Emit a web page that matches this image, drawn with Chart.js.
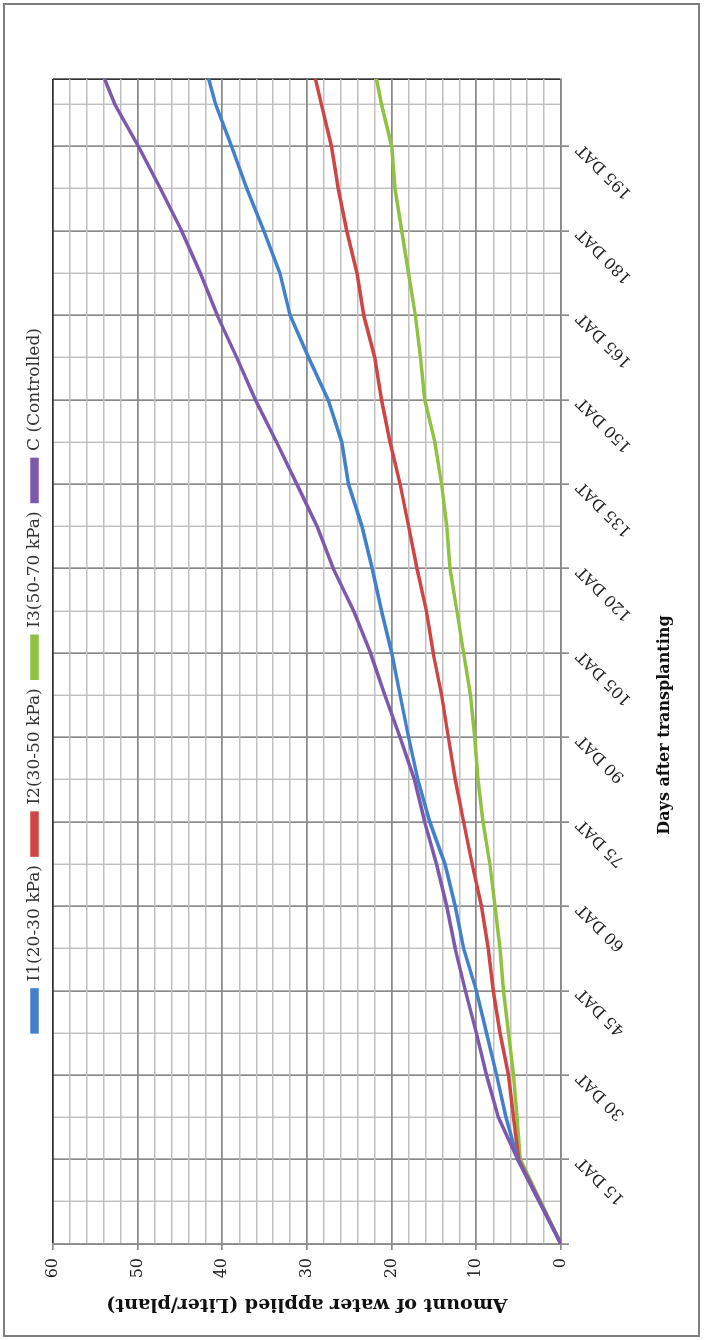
<!DOCTYPE html>
<html>
<head>
<meta charset="utf-8">
<script src="https://cdn.jsdelivr.net/npm/chart.js@4.4.0/dist/chart.umd.min.js"></script>
<style>
  html, body { margin: 0; padding: 0; background: #fff; overflow: hidden; }
  body { width: 704px; height: 1340px; position: relative; }
  /* the whole figure is laid out landscape and turned a quarter turn */
  #wrap { position: absolute; left: 0; top: 0; width: 1340px; height: 704px;
          transform-origin: 0 0; transform: rotate(-90deg) translate(-1340px, 0); }
  #frame { position: absolute; left: 3px; top: 3px; width: 1334px; height: 697px;
           border: 2px solid #7f7f7f; box-sizing: border-box; }
  canvas { position: absolute; left: 0; top: 0; }
</style>
</head>
<body>
<div id="wrap">
  <div id="frame"></div>
  <canvas id="grafico" width="1340" height="704"></canvas>
</div>
<script>
// days after transplanting where values were read
const days = [0, 15, 22.5, 30, 37.5, 45, 52.5, 60, 67.5, 75, 82.5, 90, 97.5, 105, 112.5,
  120, 127.5, 135, 142.5, 150, 157.5, 165, 172.5, 180, 187.5, 195, 202.5, 207];

const seriesNames = ['I1(20-30 kPa)', 'I2(30-50 kPa)', 'I3(50-70 kPa)', 'C (Controlled)'];
const seriesColors = ['#4280cc', '#cf4545', '#90c242', '#7c59ad'];

// cumulative water applied (Liter/plant)
const i1Values = [0, 5.1, 6.5, 7.6, 8.8, 10.0, 11.5, 12.5, 13.7, 15.5, 16.9, 18.0, 19.0, 20.0, 21.2,
  22.3, 23.5, 25.1, 25.9, 27.5, 29.8, 32.0, 33.2, 35.1, 37.1, 38.9, 40.8, 41.6];
const i2Values = [0, 5.0, 5.6, 6.2, 7.2, 8.0, 8.6, 9.4, 10.5, 11.5, 12.5, 13.3, 14.1, 15.1, 15.9,
  17.0, 18.0, 19.0, 20.2, 21.2, 22.0, 23.3, 24.1, 25.3, 26.3, 27.1, 28.3, 29.0];
const i3Values = [0, 4.8, 5.2, 5.6, 6.2, 6.8, 7.2, 7.8, 8.4, 9.2, 9.8, 10.2, 10.7, 11.5, 12.3,
  13.1, 13.5, 14.1, 14.9, 16.1, 16.6, 17.2, 18.0, 18.8, 19.6, 20.0, 21.2, 21.8];
const cValues = [0, 5.1, 7.4, 8.8, 10.0, 11.3, 12.5, 13.5, 14.7, 16.1, 17.3, 19.0, 20.8, 22.5, 24.5,
  26.9, 28.8, 31.2, 33.6, 36.1, 38.3, 40.6, 42.6, 44.8, 47.3, 49.9, 52.7, 53.9];

// axis ticks
const dayTicks = [15, 30, 45, 60, 75, 90, 105, 120, 135, 150, 165, 180, 195];
const amountTicks = [0, 10, 20, 30, 40, 50, 60];

const xTitle = 'Days after transplanting';
const yTitle = 'Amount of water applied (Liter/plant)';

const dayMax = 207;
const amountMax = 60;

const fonte = '"DejaVu Serif", "Liberation Serif", serif';

function pontos(valores) {
    return valores.map(function (v, i) {
        return { x: days[i], y: v };
    });
}

const allValues = [i1Values, i2Values, i3Values, cValues];

let datasets = allValues.map(function (valores, i) {
    return {
        label: seriesNames[i],
        data: pontos(valores),
        borderColor: seriesColors[i],
        backgroundColor: seriesColors[i],
        borderWidth: 3.5,
        pointRadius: 0,
        tension: 0,
        // control line drawn on top
        order: i === 3 ? 0 : 1
    };
});

// x axis title sits a bit left of the plot centre
const xTitlePlugin = {
    id: 'xTitle',
    afterDraw(chart) {
        const { ctx, chartArea } = chart;
        ctx.save();
        ctx.font = 'bold 16px ' + fonte;
        ctx.fillStyle = '#111';
        ctx.textAlign = 'center';
        ctx.textBaseline = 'middle';
        ctx.fillText(xTitle, chartArea.left + 519, 665);
        ctx.restore();
    }
};

const config = {
    type: 'line',
    data: { datasets: datasets },
    options: {
        responsive: false,
        animation: false,
        layout: { padding: { left: 0, right: 20, top: 5, bottom: 0 } },
        plugins: {
            tooltip: { enabled: false },
            legend: {
                position: 'top',
                labels: {
                    boxWidth: 42,
                    boxHeight: 5,
                    padding: 10,
                    color: '#333',
                    font: { family: fonte, size: 17 },
                    sort: function (a, b) { return a.datasetIndex - b.datasetIndex; }
                }
            }
        },
        scales: {
            x: {
                type: 'linear',
                min: 0,
                max: dayMax,
                afterBuildTicks: function (scale) {
                    let ticks = [];
                    for (let d = 0; d < dayMax; d += 7.5) ticks.push({ value: d });
                    ticks.push({ value: dayMax });
                    scale.ticks = ticks;
                },
                afterFit: function (scale) {
                    scale.height = 143;
                    scale.paddingRight = 79;
                    scale.paddingLeft = 0;
                },
                ticks: {
                    autoSkip: false,
                    maxRotation: 45,
                    minRotation: 45,
                    padding: 4,
                    color: '#222',
                    font: { family: fonte, size: 16 },
                    callback: function (v) {
                        return dayTicks.includes(v) ? v + ' DAT' : '';
                    }
                },
                grid: {
                    tickLength: 8,
                    color: function (ctx) {
                        let v = ctx.tick.value;
                        if (v === dayMax) return '#333';
                        return v % 15 === 0 ? '#8a8a8a' : '#bfbfbf';
                    },
                    lineWidth: function (ctx) {
                        let v = ctx.tick.value;
                        return v % 15 === 0 || v === dayMax ? 1.7 : 1.4;
                    },
                    tickColor: function (ctx) {
                        let v = ctx.tick.value;
                        return v % 15 === 0 && v !== dayMax ? '#8a8a8a' : 'rgba(0,0,0,0)';
                    }
                },
                border: { color: '#8a8a8a', width: 1.7 }
            },
            y: {
                type: 'linear',
                min: 0,
                max: amountMax,
                afterBuildTicks: function (scale) {
                    let ticks = [];
                    for (let a = 0; a <= amountMax; a += 2) ticks.push({ value: a });
                    scale.ticks = ticks;
                },
                afterFit: function (scale) {
                    scale.width = 96;
                    scale.paddingTop = 53;
                },
                ticks: {
                    autoSkip: false,
                    padding: 8,
                    color: '#222',
                    font: { family: fonte, size: 16 },
                    callback: function (v) {
                        return amountTicks.includes(v) ? v : '';
                    }
                },
                grid: {
                    tickLength: 6,
                    color: function (ctx) {
                        let v = ctx.tick.value;
                        if (v === amountMax) return '#333';
                        return v % 10 === 0 ? '#8a8a8a' : '#bfbfbf';
                    },
                    lineWidth: function (ctx) {
                        return ctx.tick.value % 10 === 0 ? 1.7 : 1.4;
                    },
                    tickColor: function (ctx) {
                        return ctx.tick.value % 10 === 0 ? '#8a8a8a' : 'rgba(0,0,0,0)';
                    }
                },
                border: { color: '#8a8a8a', width: 1.7 },
                title: {
                    display: true,
                    text: yTitle,
                    color: '#111',
                    font: { family: fonte, size: 19, weight: 'bold' },
                    padding: { top: 25, bottom: 0 }
                }
            }
        }
    },
    plugins: [xTitlePlugin]
};

let myChart = new Chart(document.getElementById('grafico'), config);
</script>
</body>
</html>
